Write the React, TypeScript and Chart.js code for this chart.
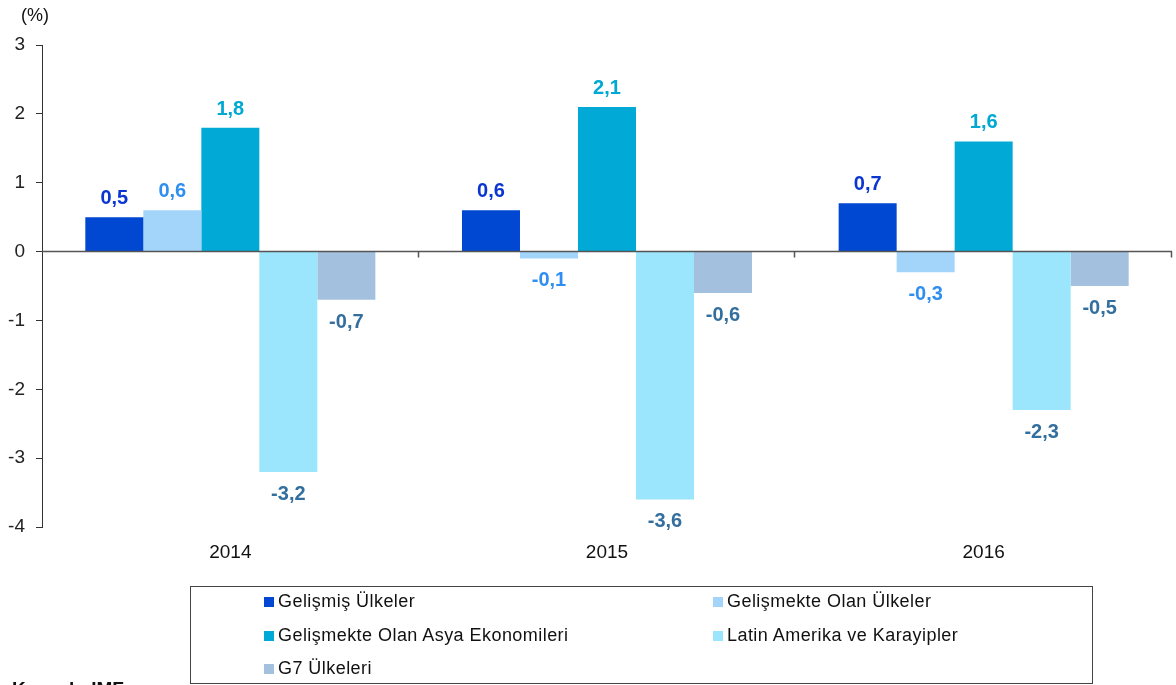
import React, { useEffect, useRef } from "react";
import { Chart, registerables } from "chart.js";

Chart.register(...registerables);

const categories = ["2014", "2015", "2016"];
const seriesNames = [
  "Gelişmiş Ülkeler",
  "Gelişmekte Olan Ülkeler",
  "Gelişmekte Olan Asya Ekonomileri",
  "Latin Amerika ve Karayipler",
  "G7 Ülkeleri",
];
const gelismis = [0.5, 0.6, 0.7];
const gelismekte = [0.6, -0.1, -0.3];
const asya = [1.8, 2.1, 1.6];
const latin = [-3.2, -3.6, -2.3];
const g7 = [-0.7, -0.6, -0.5];
const seriesValues = [gelismis, gelismekte, asya, latin, g7];
const barColors = ["#0047d1", "#a3d5fb", "#00a9d6", "#9be6fc", "#a3c1de"];
const labelColors = ["#0a35d0", "#2f8ff0", "#00a8d4", "#336f9e", "#336f9e"];
const yTicks = [3, 2, 1, 0, -1, -2, -3, -4];

const FONT = "'Liberation Sans', Arial, sans-serif";

const zeroLinePlugin = {
  id: "zeroLine",
  afterDatasetsDraw(chart: any) {
    const { ctx, chartArea, scales } = chart;
    const y0 = scales.y.getPixelForValue(0);
    ctx.save();
    ctx.strokeStyle = "#555";
    ctx.lineWidth = 1.5;
    ctx.beginPath();
    ctx.moveTo(chartArea.left, y0);
    ctx.lineTo(chartArea.right, y0);
    const n = categories.length;
    const w = (chartArea.right - chartArea.left) / n;
    for (let i = 1; i <= n; i++) {
      const x = Math.round(chartArea.left + i * w) - 0.5;
      ctx.moveTo(x, y0);
      ctx.lineTo(x, y0 + 6);
    }
    ctx.stroke();
    ctx.restore();
  },
};

const labelPlugin = {
  id: "valueLabels",
  afterDatasetsDraw(chart: any) {
    const { ctx } = chart;
    ctx.save();
    ctx.font = `bold 20px ${FONT}`;
    ctx.textAlign = "center";
    ctx.textBaseline = "alphabetic";
    chart.data.datasets.forEach((ds: any, di: number) => {
      const meta = chart.getDatasetMeta(di);
      meta.data.forEach((el: any, i: number) => {
        const v = ds.data[i];
        const txt = String(v).replace(".", ",");
        ctx.fillStyle = labelColors[di];
        if (v >= 0) {
          ctx.fillText(txt, el.x, el.y - 13);
        } else {
          ctx.fillText(txt, el.x, el.y + 28);
        }
      });
    });
    ctx.restore();
  },
};

export default function App() {
  const ref = useRef<HTMLCanvasElement | null>(null);
  useEffect(() => {
    if (!ref.current) return;
    const chart = new Chart(ref.current, {
      type: "bar",
      data: {
        labels: categories,
        datasets: seriesValues.map((vals, i) => ({
          label: seriesNames[i],
          data: vals,
          backgroundColor: barColors[i],
          borderWidth: 0,
          barPercentage: 1,
          categoryPercentage: 0.77,
        })),
      },
      options: {
        responsive: false,
        animation: false,
        devicePixelRatio: 1,
        layout: { padding: { top: 45, right: 4, left: 0, bottom: 0 } },
        plugins: {
          legend: { display: false },
          tooltip: { enabled: false },
        },
        scales: {
          x: {
            grid: { display: false },
            border: { display: false },
            ticks: { color: "#111", font: { family: FONT, size: 19 }, padding: 6 },
            afterFit: (s: any) => {
              s.height = 685 - 527;
            },
          },
          y: {
            min: -4,
            max: 3,
            afterBuildTicks: (s: any) => {
              s.ticks = yTicks.map((v) => ({ value: v }));
            },
            grid: {
              drawOnChartArea: false,
              drawTicks: true,
              tickLength: 6,
              color: "#333",
            },
            border: { display: true, color: "#333", width: 1 },
            ticks: {
              color: "#222",
              font: { family: FONT, size: 19 },
              padding: 11,
              callback: (v: any) => String(v),
            },
            afterFit: (s: any) => {
              s.width = 42;
            },
          },
        },
      },
      plugins: [zeroLinePlugin, labelPlugin],
    });
    return () => chart.destroy();
  }, []);

  const legendItem = (i: number, left: number, top: number) => (
    <div
      key={i}
      style={{
        position: "absolute",
        left,
        top,
        display: "flex",
        alignItems: "center",
        fontFamily: FONT,
        fontSize: 18,
        letterSpacing: 0.45,
        lineHeight: "21px",
        color: "#111",
        whiteSpace: "nowrap",
      }}
    >
      <span
        style={{
          display: "inline-block",
          width: 10,
          height: 10,
          background: barColors[i],
          marginRight: 4,
        }}
      />
      {seriesNames[i]}
    </div>
  );

  return (
    <div
      style={{
        position: "fixed",
        left: 0,
        top: 0,
        width: 1176,
        height: 685,
        background: "#fff",
        overflow: "hidden",
      }}
    >
      <canvas ref={ref} width={1176} height={685} style={{ position: "absolute", left: 0, top: 0 }} />
      <div
        style={{
          position: "absolute",
          left: 21,
          top: 5,
          fontFamily: FONT,
          fontSize: 18,
          color: "#111",
        }}
      >
        (%)
      </div>
      <div
        style={{
          position: "absolute",
          left: 190,
          top: 586,
          width: 903,
          height: 98,
          border: "1px solid #444",
          boxSizing: "border-box",
        }}
      />
      {legendItem(0, 264, 591)}
      {legendItem(1, 713, 591)}
      {legendItem(2, 264, 625)}
      {legendItem(3, 713, 625)}
      {legendItem(4, 264, 658)}
      <div
        style={{
          position: "absolute",
          left: 12,
          top: 678,
          fontFamily: FONT,
          fontSize: 19,
          fontWeight: "bold",
          color: "#111",
        }}
      >
        Kaynak: IMF
      </div>
    </div>
  );
}
